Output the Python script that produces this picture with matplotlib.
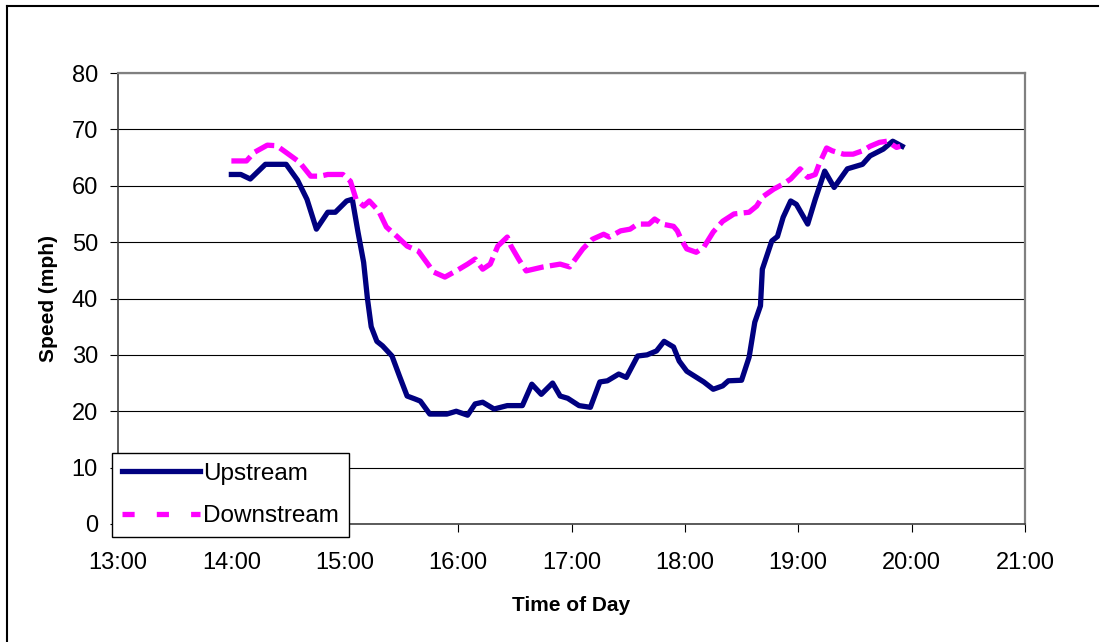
import numpy as np
import matplotlib
matplotlib.use("Agg")
import matplotlib.pyplot as plt
from matplotlib.lines import Line2D

plt.rcParams['font.family'] = ['Liberation Sans', 'DejaVu Sans']

# time of day (HH:MM) and speed (mph) for each series
up_times = ["14:00", "14:05", "14:10", "14:18", "14:29", "14:35", "14:40", "14:45",
            "14:51", "14:55", "15:01", "15:04", "15:07", "15:10", "15:12", "15:14",
            "15:17", "15:20", "15:25", "15:29", "15:33", "15:37", "15:40", "15:45",
            "15:54", "15:59", "16:05", "16:09", "16:13", "16:19", "16:26", "16:34",
            "16:39", "16:44", "16:50", "16:54", "16:58", "17:04", "17:10", "17:15",
            "17:19", "17:25", "17:29", "17:35", "17:40", "17:45", "17:49", "17:54",
            "17:57", "18:01", "18:10", "18:15", "18:20", "18:23", "18:30", "18:34",
            "18:37", "18:40", "18:41", "18:46", "18:49", "18:52", "18:56", "18:59",
            "19:05", "19:09", "19:14", "19:19", "19:26", "19:34", "19:38", "19:45",
            "19:50", "19:55"]
up_speed = [62, 62, 61.2, 63.8, 63.8, 61, 57.6, 52.3,
            55.3, 55.3, 57.3, 57.6, 51.8, 46.4, 40, 35,
            32.4, 31.6, 29.8, 26.2, 22.7, 22.2, 21.8, 19.5,
            19.5, 20, 19.3, 21.3, 21.6, 20.4, 21, 21,
            24.8, 23, 25, 22.7, 22.3, 21, 20.7, 25.2,
            25.4, 26.6, 26, 29.8, 30, 30.7, 32.4, 31.4,
            28.9, 27.1, 25.2, 23.9, 24.5, 25.4, 25.5, 29.6,
            35.8, 38.7, 45.2, 50.2, 51, 54.4, 57.3, 56.7,
            53.2, 57.6, 62.6, 59.7, 63, 63.8, 65.3, 66.5,
            67.9, 67]

down_times = ["14:00", "14:08", "14:12", "14:19", "14:24", "14:29", "14:36", "14:42",
              "14:47", "14:51", "14:59", "15:03", "15:06", "15:10", "15:13", "15:18",
              "15:22", "15:28", "15:33", "15:39", "15:44", "15:47", "15:53", "15:59",
              "16:05", "16:09", "16:13", "16:17", "16:21", "16:26", "16:28", "16:32",
              "16:36", "16:45", "16:54", "16:59", "17:06", "17:11", "17:17", "17:20",
              "17:26", "17:31", "17:35", "17:41", "17:44", "17:48", "17:54", "17:56",
              "17:58", "18:01", "18:06", "18:10", "18:15", "18:20", "18:26", "18:34",
              "18:38", "18:41", "18:47", "18:52", "18:56", "19:01", "19:05", "19:09",
              "19:11", "19:15", "19:18", "19:24", "19:29", "19:34", "19:38", "19:43",
              "19:47", "19:52", "19:54"]
down_speed = [64.4, 64.4, 65.9, 67.2, 67.1, 65.9, 64.2, 61.7,
              61.7, 62, 62, 60.8, 57.6, 56.4, 57.3, 55.5,
              52.7, 50.9, 49.3, 48.4, 46.1, 44.7, 43.8, 44.9,
              46.1, 47, 45.2, 46.1, 49.3, 50.9, 49.3, 47,
              44.9, 45.6, 46.1, 45.6, 48.8, 50.5, 51.4, 50.9,
              52, 52.3, 53.2, 53.2, 54.1, 53.2, 52.8, 52,
              50.5, 48.8, 48.2, 49.1, 51.8, 53.7, 55, 55.3,
              56.4, 58, 59.4, 60.3, 61.2, 63, 61.5, 62,
              63.8, 66.7, 66.2, 65.6, 65.6, 66.2, 67, 67.7,
              67.9, 66.8, 67]

hour_ticks = list(range(13, 22))
speed_ticks = list(range(0, 81, 10))


def to_hours(times):
    out = []
    for t in times:
        h, m = t.split(":")
        out.append(int(h) + int(m) / 60)
    return np.array(out)


W, H = 1104, 642
fig = plt.figure(figsize=(W / 100, H / 100), dpi=100)
ax = fig.add_axes([118 / W, 1 - 524 / H, (1025 - 118) / W, (524 - 73) / H])

# outer chart border (only top and left visible)
fig.add_artist(Line2D([7 / W, 1098 / W], [1 - 6 / H, 1 - 6 / H], color="black", lw=1.5))
fig.add_artist(Line2D([7 / W, 7 / W], [0, 1 - 6 / H], color="black", lw=1.5))

ax.plot(to_hours(up_times), up_speed, color="#000080", lw=3.8,
        solid_joinstyle="round", zorder=3)
ax.plot(to_hours(down_times), down_speed, color="#FF00FF", lw=3.8,
        dashes=(4, 1.2), zorder=4)

ax.set_xlim(13, 21)
ax.set_ylim(0, 80)
ax.set_xticks(hour_ticks)
ax.set_xticklabels([f"{h}:00" for h in hour_ticks])
ax.set_yticks(speed_ticks)
ax.yaxis.grid(True, color="black", lw=0.8)
ax.set_axisbelow(True)

for s in ["left", "bottom"]:
    ax.spines[s].set_color("#404040")
    ax.spines[s].set_linewidth(1.2)
for s in ["top", "right"]:
    ax.spines[s].set_color("#808080")
    ax.spines[s].set_linewidth(1.6)

ax.tick_params(axis="both", direction="out", length=6, width=0.8,
               labelsize=17, colors="black")
ax.tick_params(axis="y", pad=8.5)
ax.tick_params(axis="x", pad=14.5)

ax.set_xlabel("Time of Day", fontsize=15, fontweight="bold")
ax.xaxis.set_label_coords(0.5, -0.159)
ax.set_ylabel("Speed (mph)", fontsize=15, fontweight="bold")
ax.yaxis.set_label_coords(-0.066, 0.5)

handles = [
    Line2D([], [], color="#000080", lw=3.8),
    Line2D([], [], color="#FF00FF", lw=3.8, dashes=(2.3, 4.2)),
]
leg = fig.legend(handles, ["Upstream", "Downstream"], loc="upper left",
                 bbox_to_anchor=(112 / W, 1 - 453 / H), borderaxespad=0,
                 fontsize=17.5, handlelength=3.2, handletextpad=0.15,
                 labelspacing=0.85, borderpad=0.4, fancybox=False,
                 framealpha=1, edgecolor="black")
leg.get_frame().set_linewidth(1.0)

fig.savefig("out.png", dpi=100)
